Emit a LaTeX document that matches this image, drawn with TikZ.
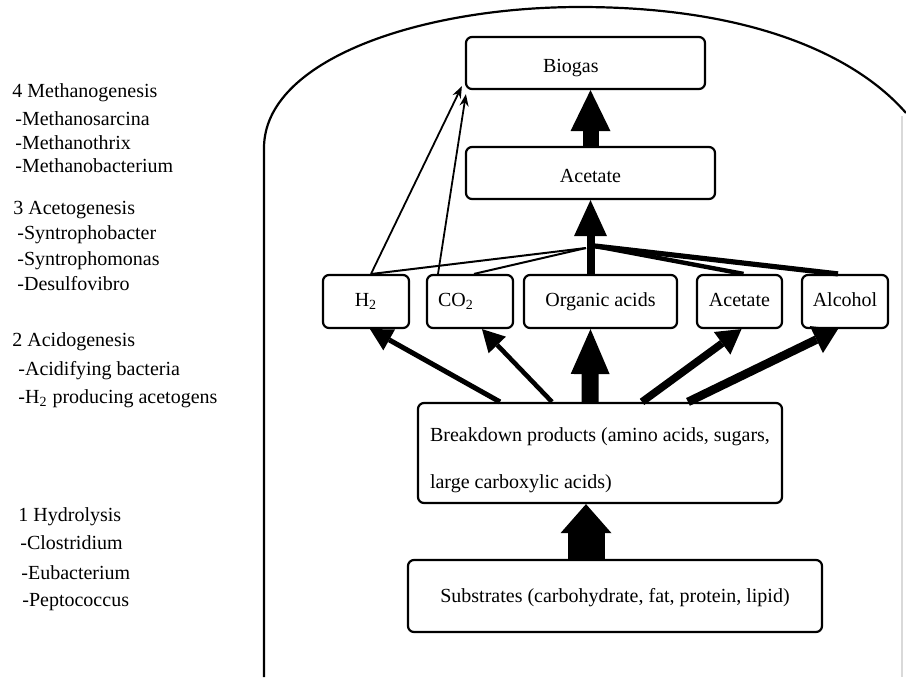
\documentclass[tikz,border=0pt]{standalone}
\usepackage{fontspec}
\setmainfont{Liberation Serif}
\usetikzlibrary{arrows.meta}
\begin{document}
\begin{tikzpicture}[x=0.5pt,y=-0.5pt,
  box/.style={draw, line width=1.1pt, rounded corners=3pt, inner sep=0pt, font=\fontsize{10}{12}\selectfont},
  one/.style={text height=7pt, text depth=2.2pt},
  low/.style={text height=11.5pt, text depth=2.2pt},
  lefttxt/.style={anchor=west, inner sep=0pt, text height=7pt, text depth=2.2pt, font=\fontsize{10}{12}\selectfont},
  thinarrow/.style={line width=0.9pt, -{Stealth[length=6pt,width=4.5pt]}},
  thinline/.style={line width=1pt},
  thickline/.style={line width=#1},
  fatarrow/.style n args={3}{line width=#1, -{Triangle[width=#2,length=#3,line width=0pt]}},
  vessel/.style={line width=1.1pt}
]
\useasboundingbox (0,0) rectangle (906,677);
\fill[white] (0,0) rectangle (906,677);

% vessel outline
\draw[vessel] (264,677) -- (264,148) .. controls (264,60) and (420,7) .. (580,7) .. controls (760,7) and (860,60) .. (906,113);
\draw[black!15, line width=0.6pt] (902,116) -- (902,677);

% left text
\node[lefttxt] (t4) at (12,93) {4 Methanogenesis};
\node[lefttxt] (t4a) at (15,121) {-Methanosarcina};
\node[lefttxt] (t4b) at (15,145) {-Methanothrix};
\node[lefttxt] (t4c) at (15,168) {-Methanobacterium};
\node[lefttxt] (t3) at (13,210) {3 Acetogenesis};
\node[lefttxt] (t3a) at (17,235) {-Syntrophobacter};
\node[lefttxt] (t3b) at (17,261) {-Syntrophomonas};
\node[lefttxt] (t3c) at (17,286) {-Desulfovibro};
\node[lefttxt] (t2) at (12,342) {2 Acidogenesis};
\node[lefttxt] (t2a) at (18,371) {-Acidifying bacteria};
\node[lefttxt] (t2b) at (18,399) {-H\textsubscript{2} producing acetogens};
\node[lefttxt] (t1) at (18,517) {1 Hydrolysis};
\node[lefttxt] (t1a) at (20,545) {-Clostridium};
\node[lefttxt] (t1b) at (21,575) {-Eubacterium};
\node[lefttxt] (t1c) at (22,602) {-Peptococcus};

% boxes
\node[box, low, minimum width=119.5pt, minimum height=26pt, text width=42.5pt, inner xsep=38.5pt, align=left] (bio) at (585.5,63) {Biogas};
\node[box, low, minimum width=124.5pt, minimum height=26pt] (ace) at (590.5,173) {Acetate};
\node[box, one, minimum width=43pt, minimum height=26.5pt] (h2) at (366,301.5) {H\textsubscript{2}};
\node[box, one, minimum width=43pt, minimum height=26.5pt, text width=32pt, inner xsep=5.5pt, align=left] (co2) at (470,301.5) {CO\textsubscript{2}};
\node[box, one, minimum width=76.5pt, minimum height=26.5pt] (org) at (600.5,301.5) {Organic acids};
\node[box, one, minimum width=42.5pt, minimum height=26.5pt] (acr) at (739.5,301.5) {Acetate};
\node[box, one, minimum width=43pt, minimum height=26.5pt] (alc) at (845,301.5) {Alcohol};
\node[box, minimum width=182pt, minimum height=50pt, align=left] (bd) at (600,453) {\rule{0pt}{14.5pt}Breakdown products (amino acids, sugars,\\[11.5pt] large carboxylic acids)};
\node[box, one, minimum width=207pt, minimum height=36pt] (sub) at (615,596) {\raisebox{-1pt}{Substrates (carbohydrate, fat, protein, lipid)}};

% hub
\coordinate (hubL) at (586,248);
\coordinate (hubR) at (595,246);

\draw[thinline] ([xshift=3pt]h2.north) -- (hubL);
\draw[thinline] ([xshift=2pt]co2.north) -- (hubL);
\draw[thickline=2.2pt] (hubR) -- ([xshift=2pt]acr.north);
\draw[thickline=2.6pt] (hubR) -- ([xshift=-3.5pt]alc.north);

% thin arrows to biogas
\draw[thinarrow] ([xshift=2.5pt]h2.north) -- ([shift={(-1.5pt,2pt)}]bio.south west);
\draw[thinarrow] ([xshift=-16pt]co2.north) -- ([shift={(0.5pt,-2pt)}]bio.south west);

% fat arrows
\draw[fatarrow={4pt}{16.5pt}{18pt}] ([xshift=-5pt]org.north) -- (ace.south);
\draw[fatarrow={8pt}{20pt}{20.5pt}] (ace.north) -- (bio.south -| ace.north);
\draw[fatarrow={18.5pt}{25.5pt}{14.5pt}] ([xshift=-14.5pt]sub.north) -- ([xshift=-7pt]bd.south);

\draw[fatarrow={2.5pt}{12pt}{11pt}] ([xshift=-50pt]bd.north) -- ([xshift=2pt]h2.south);
\draw[fatarrow={2.3pt}{12pt}{11pt}] ([xshift=-24pt]bd.north) -- ([xshift=6pt]co2.south);
\draw[fatarrow={8.5pt}{19.5pt}{22.5pt}] ([xshift=-5pt]bd.north) -- ([xshift=-5pt]org.south);
\draw[fatarrow={3.8pt}{14pt}{12pt}] ([xshift=21pt]bd.north) -- ([xshift=1pt]acr.south);
\draw[fatarrow={4.3pt}{15pt}{12pt}] ([xshift=44pt]bd.north) -- ([xshift=-3.5pt]alc.south);
\end{tikzpicture}
\end{document}
